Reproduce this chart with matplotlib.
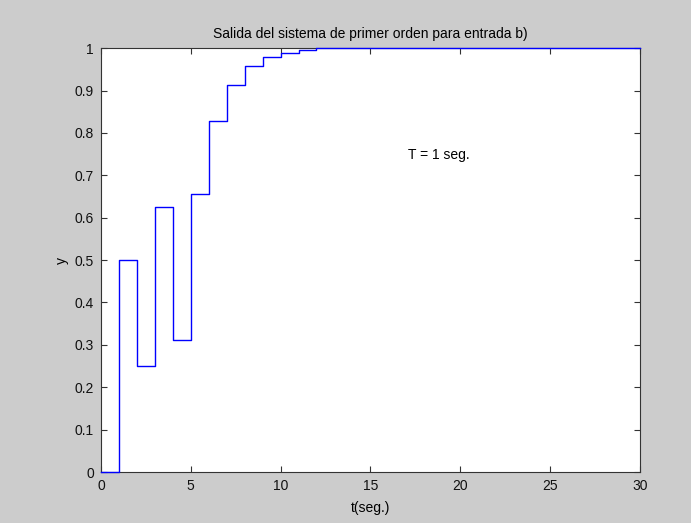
import matplotlib.pyplot as plt

# salida del sistema de primer orden, entrada b)
t = list(range(0, 31))
y = [0, 0.5, 0.25, 0.625, 0.3125, 0.65625, 0.828, 0.914, 0.957, 0.978,
     0.989, 0.995, 1, 1, 1, 1, 1, 1, 1, 1,
     1, 1, 1, 1, 1, 1, 1, 1, 1, 1, 1]
xticks = [0, 5, 10, 15, 20, 25, 30]
yticks = [0, 0.1, 0.2, 0.3, 0.4, 0.5, 0.6, 0.7, 0.8, 0.9, 1]
ytick_labels = ['0', '0.1', '0.2', '0.3', '0.4', '0.5', '0.6', '0.7', '0.8', '0.9', '1']

plt.rcParams['font.family'] = ['Liberation Sans', 'DejaVu Sans']

fig = plt.figure(figsize=(6.91, 5.23), dpi=100, facecolor='#cccccc')
ax = fig.add_axes([0.146, 0.0975, 0.78, 0.8105])

ax.step(t, y, where='post', color='#0000ff', linewidth=1.0, clip_on=False, zorder=5)

ax.set_xlim(0, 30)
ax.set_ylim(0, 1)
ax.set_xticks(xticks)
ax.set_yticks(yticks)
ax.set_yticklabels(ytick_labels)
ax.tick_params(direction='in', top=True, right=True, length=4, labelsize=10,
               color='#333333', labelcolor='#111111', pad=5)
for s in ax.spines.values():
    s.set_color('#333333')
    s.set_linewidth(0.8)

ax.text(17.1, 0.748, 'T = 1 seg.', fontsize=10, ha='left', va='center')
ax.set_title('Salida del sistema de primer orden para entrada b)', fontsize=10, pad=7)
ax.set_xlabel('t(seg.)', fontsize=10, labelpad=6)
ax.set_ylabel('y', fontsize=10, labelpad=4)

fig.savefig('out.png', dpi=100, facecolor=fig.get_facecolor())
